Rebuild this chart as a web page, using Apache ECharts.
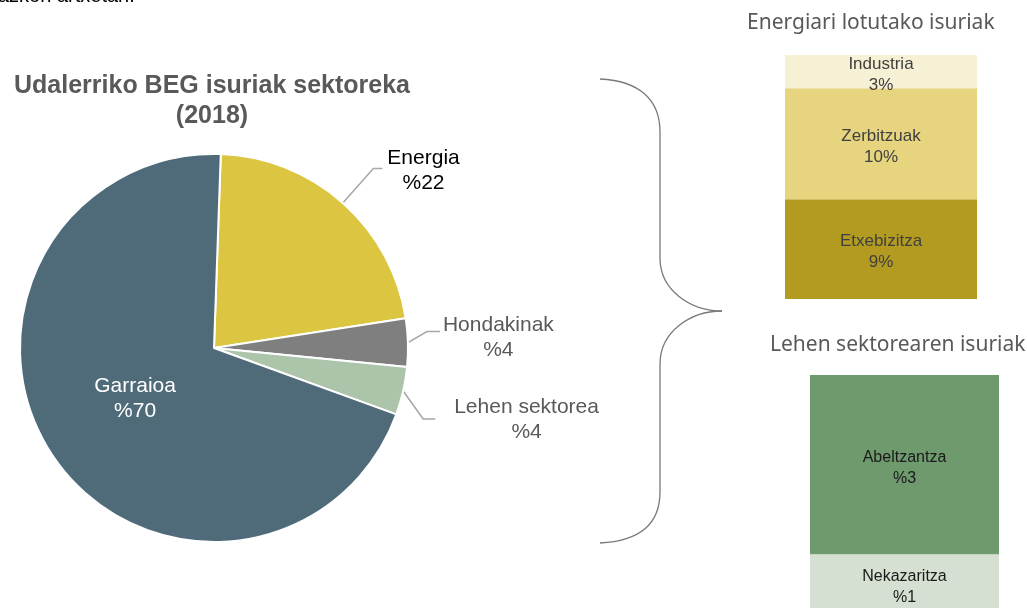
<!DOCTYPE html>
<html>
<head>
<meta charset="utf-8">
<script src="https://cdn.jsdelivr.net/npm/echarts@6/dist/echarts.min.js"></script>
<style>
  html, body { margin: 0; padding: 0; background: #fff; }
  #main { width: 1027px; height: 608px; }
</style>
</head>
<body>
<div id="main"></div>
<script>
// sektoreak (tarta)
const pieNames = ['Energia', 'Hondakinak', 'Lehen sektorea', 'Garraioa']
const pieValues = [22, 4, 4, 70]
const pieColors = ['#DCC540', '#7F7F7F', '#ABC4AA', '#4F6B7A']

// energiari lotutako isuriak (behetik gora)
const energyNames = ['Etxebizitza', 'Zerbitzuak', 'Industria']
const energyValues = [9, 10, 3]
const energyColors = ['#B39B22', '#E6D57E', '#F6F0D4']

// lehen sektorearen isuriak (behetik gora)
const primaryNames = ['Nekazaritza', 'Abeltzantza']
const primaryValues = [1, 3]
const primaryColors = ['#D5E0D2', '#6E9A6E']

const sum = arr => arr.reduce((a, b) => a + b, 0)
const font = 'Liberation Sans, Arial, sans-serif'

let myChart = echarts.init(document.getElementById('main'))

let barSeries = []
energyNames.forEach((name, i) => {
  barSeries.push({
    name: name,
    type: 'bar',
    stack: 'energy',
    xAxisIndex: 0,
    yAxisIndex: 0,
    barWidth: '100%',
    data: [energyValues[i]],
    itemStyle: { color: energyColors[i] },
    label: {
      show: true,
      position: 'inside',
      offset: [0, 3],
      formatter: '{a}\n{c}%',
      color: '#404040',
      fontFamily: font,
      fontSize: 17,
      lineHeight: 21
    }
  })
})
primaryNames.forEach((name, i) => {
  barSeries.push({
    name: name,
    type: 'bar',
    stack: 'primary',
    xAxisIndex: 1,
    yAxisIndex: 1,
    barWidth: '100%',
    data: [primaryValues[i]],
    itemStyle: { color: primaryColors[i] },
    label: {
      show: true,
      position: 'inside',
      offset: [0, 3],
      formatter: '{a}\n%{c}',
      color: '#1a1a1a',
      fontFamily: font,
      fontSize: 16,
      lineHeight: 21
    }
  })
})

let pieData = pieNames.map((name, i) => {
  let item = { name: name, value: pieValues[i], itemStyle: { color: pieColors[i] } }
  if (name === 'Garraioa') {
    item.label = { position: 'inside', color: '#fff' }
  }
  if (name === 'Energia') {
    item.label = { color: '#000' }
    item.labelLine = { length: 46, length2: 9 }
  }
  return item
})

// gida-lerroen forma eta testuaren tartea (lerroaren muturretik)
const guideTweak = {
  Hondakinak: { bend: [19, -11], run: 13, gap: [3, 6] },
  'Lehen sektorea': { bend: [20, 28], run: 12, gap: [19, 1] }
}
const insideTweak = { Garraioa: [4, -5], Energia: [0, 2] }

let braceStyle = { stroke: '#7a7a7a', lineWidth: 1.3, fill: null }

let option = {
  animation: false,
  backgroundColor: '#fff',
  title: {
    text: 'Udalerriko BEG isuriak sektoreka\n(2018)',
    left: 207,
    top: 66,
    textAlign: 'center',
    textStyle: {
      fontFamily: font,
      fontSize: 25,
      fontWeight: 'bold',
      color: '#595959',
      lineHeight: 30
    }
  },
  graphic: [
    {
      type: 'text',
      left: -2,
      top: -14,
      style: { text: 'azkon artxetan.', font: '20px ' + font, fill: '#000' }
    },
    {
      type: 'text',
      left: 747,
      top: 13,
      style: { text: 'Energiari lotutako isuriak', font: '21px Noto Sans, sans-serif', fill: '#595959' }
    },
    {
      type: 'text',
      left: 770,
      top: 335,
      style: { text: 'Lehen sektorearen isuriak', font: '21px Noto Sans, sans-serif', fill: '#595959' }
    },
    // giltza
    { type: 'bezierCurve', shape: { x1: 600, y1: 79, cpx1: 640, cpy1: 81, cpx2: 660, cpy2: 100, x2: 660, y2: 132 }, style: braceStyle },
    { type: 'line', shape: { x1: 660, y1: 132, x2: 660, y2: 258 }, style: braceStyle },
    { type: 'bezierCurve', shape: { x1: 660, y1: 258, cpx1: 660, cpy1: 290, cpx2: 690, cpy2: 311, x2: 722, y2: 311 }, style: braceStyle },
    { type: 'bezierCurve', shape: { x1: 722, y1: 311, cpx1: 690, cpy1: 311, cpx2: 660, cpy2: 332, x2: 660, y2: 364 }, style: braceStyle },
    { type: 'line', shape: { x1: 660, y1: 364, x2: 660, y2: 492 }, style: braceStyle },
    { type: 'bezierCurve', shape: { x1: 660, y1: 492, cpx1: 660, cpy1: 524, cpx2: 640, cpy2: 541, x2: 600, y2: 543 }, style: braceStyle }
  ],
  grid: [
    { left: 785, top: 55, width: 192, height: 244, outerBoundsMode: 'none' },
    { left: 810, top: 375, width: 189, height: 239, outerBoundsMode: 'none' }
  ],
  xAxis: [
    { type: 'category', gridIndex: 0, data: [''], show: false },
    { type: 'category', gridIndex: 1, data: [''], show: false }
  ],
  yAxis: [
    { type: 'value', gridIndex: 0, min: 0, max: sum(energyValues), show: false },
    { type: 'value', gridIndex: 1, min: 0, max: sum(primaryValues), show: false }
  ],
  series: [
    {
      name: 'Sektoreak',
      type: 'pie',
      center: [214, 348],
      radius: 194,
      startAngle: 88,
      data: pieData,
      itemStyle: { borderColor: '#fff', borderWidth: 2 },
      label: {
        show: true,
        formatter: '{t|{b}}\n{t|%{c}}',
        fontFamily: font,
        fontSize: 21,
        lineHeight: 25,
        color: '#595959',
        rich: {
          t: { align: 'center', fontFamily: font, fontSize: 21, lineHeight: 25 }
        }
      },
      labelLine: {
        show: true,
        length: 20,
        length2: 12,
        lineStyle: { color: '#A6A6A6', width: 1.5 }
      },
      labelLayout: params => {
        let name = pieNames[params.dataIndex]
        if (insideTweak[name]) {
          return { dx: insideTweak[name][0], dy: insideTweak[name][1] }
        }
        let t = guideTweak[name]
        if (!t || !params.labelLinePoints) return {}
        let p0 = params.labelLinePoints[0]
        let p1 = [p0[0] + t.bend[0], p0[1] + t.bend[1]]
        let p2 = [p1[0] + t.run, p1[1]]
        let r = params.labelRect
        return {
          dx: p2[0] + t.gap[0] - r.x,
          dy: p2[1] + t.gap[1] - (r.y + r.height / 2),
          labelLinePoints: [[p0[0], p0[1]], p1, p2]
        }
      }
    }
  ].concat(barSeries)
}

myChart.setOption(option)
</script>
</body>
</html>
